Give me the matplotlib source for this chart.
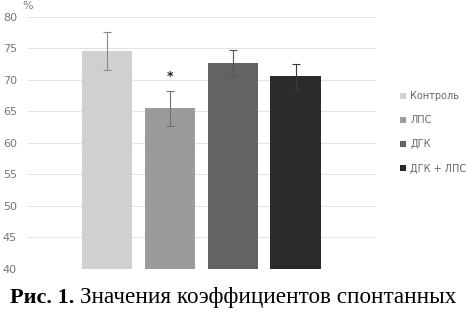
import numpy as np
import matplotlib.pyplot as plt

groups = ['Контроль', 'ЛПС', 'ДГК', 'ДГК + ЛПС']
values = [74.6, 65.5, 72.7, 70.6]
errors = [3.0, 2.8, 2.1, 2.0]
colors = ['#d0d0d0', '#9b9b9b', '#636363', '#2b2b2b']
err_colors = ['#8a8a8a', '#6e6e6e', '#555555', '#3a3a3a']
yticks = [40, 45, 50, 55, 60, 65, 70, 75, 80]

fig = plt.figure(figsize=(4.66, 3.16), dpi=100)
ax = fig.add_axes([28 / 466, 47 / 316, 348 / 466, 252 / 316])

x = np.arange(len(groups))
for i in range(len(groups)):
    ax.bar(x[i], values[i] - 40, bottom=40, width=0.8, color=colors[i],
           label=groups[i], zorder=2)
    ax.errorbar(x[i], values[i], yerr=errors[i], color=err_colors[i],
                capsize=3, elinewidth=0.8, capthick=0.8, zorder=3)

# significance mark over LPS
ax.text(x[1], values[1] + errors[1] + 2.3, '*', ha='center', va='center',
        fontsize=9, fontweight='bold', color='#222222')

ax.set_ylim(40, 80)
ax.set_xlim(-1.26, 4.28)
ax.set_yticks(yticks)
ax.set_xticks([])
ax.grid(axis='y', color='#e3e3e3', linewidth=0.8, zorder=0)
ax.tick_params(axis='y', length=0, labelsize=8, labelcolor='#777777', pad=8)
for s in ax.spines.values():
    s.set_visible(False)

fig.text(22 / 466, 1 - 6 / 316, '%', fontsize=8, color='#777777',
         ha='left', va='center')

ax.legend(loc='upper left', bbox_to_anchor=(1.045, 0.74), frameon=False,
          fontsize=7, labelcolor='#666666', handlelength=0.6, handleheight=0.6,
          handletextpad=0.4, labelspacing=1.45)

# caption, fitted to the width used in the source figure
fig.canvas.draw()
r = fig.canvas.get_renderer()
yc = 1 - 298 / 316
t1 = fig.text(10 / 466, yc, 'Рис. 1.', fontsize=16, fontweight='bold',
              family='Liberation Serif', ha='left', va='center')
w1 = t1.get_window_extent(r).width
t1.set_fontsize(16 * 65 / w1)
t2 = fig.text(80 / 466, yc, 'Значения коэффициентов спонтанных', fontsize=14,
              family='Liberation Serif', ha='left', va='center')
w2 = t2.get_window_extent(r).width
t2.set_fontsize(14 * 375 / w2)

fig.savefig('out.png', dpi=100)
